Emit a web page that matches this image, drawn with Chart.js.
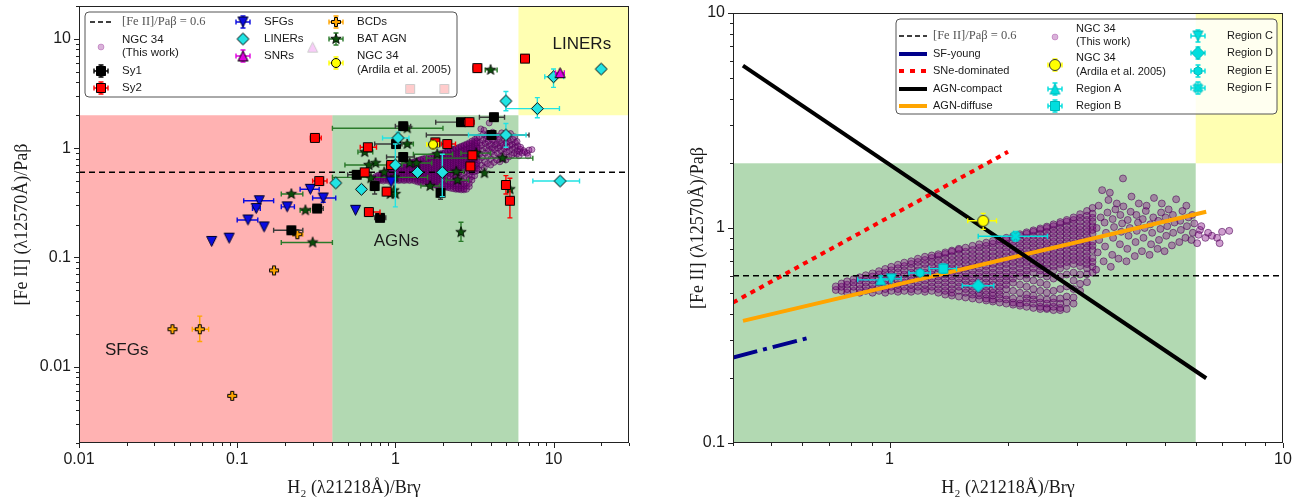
<!DOCTYPE html>
<html>
<head>
<meta charset="utf-8">
<title>[Fe II]/Paβ versus H2/Brγ diagnostic diagram</title>
<script src="https://cdn.jsdelivr.net/npm/chart.js@4.4.1/dist/chart.umd.min.js"></script>
<style>
  html, body { margin: 0; padding: 0; background: #fff; }
  #panels { position: relative; width: 1305px; height: 503px; overflow: hidden; }
  #leftChart { position: absolute; left: 0; top: 0; }
  #rightChart { position: absolute; left: 652px; top: 0; }
</style>
</head>
<body>
<div id="panels">
  <canvas id="leftChart" width="652" height="503"></canvas>
  <canvas id="rightChart" width="653" height="503"></canvas>
</div>
<script>
// ---------------- tick labels ----------------
const leftXTickLabels = [0.01, 0.1, 1, 10];
const leftYTickLabels = [0.01, 0.1, 1, 10];
const rightXTickLabels = [1, 10];
const rightYTickLabels = [0.1, 1, 10];

const ratioThreshold = 0.6;

// ---------------- NGC 34 (this work) ----------------
// dense core: strips of equal H2/Brγ with their [Fe II]/Paβ values
const ngc34Strips = [
  [0.73, [0.515, 0.535]],
  [0.755, [0.51, 0.533, 0.552]],
  [0.78, [0.50, 0.52, 0.545, 0.565]],
  [0.81, [0.51, 0.533, 0.557, 0.578]],
  [0.84, [0.50, 0.52, 0.545, 0.57, 0.59]],
  [0.87, [0.51, 0.533, 0.557, 0.582, 0.603]],
  [0.905, [0.50, 0.52, 0.545, 0.57, 0.595, 0.615]],
  [0.94, [0.51, 0.533, 0.557, 0.582, 0.608, 0.63]],
  [0.975, [0.50, 0.52, 0.545, 0.57, 0.595, 0.62, 0.645]],
  [1.01, [0.51, 0.533, 0.557, 0.582, 0.608, 0.635, 0.66]],
  [1.05, [0.505, 0.52, 0.545, 0.57, 0.595, 0.62, 0.65, 0.675]],
  [1.09, [0.51, 0.533, 0.557, 0.582, 0.608, 0.635, 0.665, 0.69]],
  [1.135, [0.505, 0.52, 0.545, 0.57, 0.595, 0.62, 0.65, 0.68, 0.70]],
  [1.18, [0.51, 0.533, 0.557, 0.582, 0.608, 0.635, 0.665, 0.695, 0.72]],
  [1.23, [0.505, 0.52, 0.545, 0.57, 0.595, 0.62, 0.65, 0.68, 0.71, 0.735]],
  [1.28, [0.51, 0.533, 0.557, 0.582, 0.608, 0.635, 0.665, 0.695, 0.725, 0.745]],
  [1.33, [0.50, 0.52, 0.545, 0.57, 0.595, 0.62, 0.65, 0.68, 0.71, 0.74, 0.755]],
  [1.385, [0.49, 0.51, 0.533, 0.557, 0.582, 0.608, 0.635, 0.665, 0.695, 0.725, 0.757, 0.77]],
  [1.44, [0.485, 0.50, 0.52, 0.545, 0.57, 0.595, 0.62, 0.65, 0.68, 0.71, 0.74, 0.775, 0.785]],
  [1.50, [0.48, 0.51, 0.533, 0.557, 0.582, 0.608, 0.635, 0.665, 0.695, 0.725, 0.757, 0.79, 0.80]],
  [1.56, [0.475, 0.50, 0.52, 0.545, 0.57, 0.595, 0.62, 0.65, 0.68, 0.71, 0.74, 0.775, 0.81]],
  [1.625, [0.47, 0.49, 0.51, 0.533, 0.557, 0.582, 0.608, 0.635, 0.665, 0.695, 0.725, 0.757, 0.79, 0.826]],
  [1.69, [0.465, 0.485, 0.50, 0.52, 0.545, 0.57, 0.595, 0.62, 0.65, 0.68, 0.71, 0.74, 0.775, 0.81, 0.84]],
  [1.76, [0.46, 0.47, 0.49, 0.51, 0.533, 0.557, 0.582, 0.608, 0.635, 0.665, 0.695, 0.725, 0.757, 0.79, 0.826, 0.855]],
  [1.83, [0.455, 0.465, 0.485, 0.50, 0.52, 0.545, 0.57, 0.595, 0.62, 0.65, 0.68, 0.71, 0.74, 0.775, 0.81, 0.845, 0.87]],
  [1.905, [0.45, 0.47, 0.49, 0.51, 0.533, 0.557, 0.582, 0.608, 0.635, 0.665, 0.695, 0.725, 0.757, 0.79, 0.826, 0.863, 0.885]],
  [1.98, [0.445, 0.465, 0.485, 0.52, 0.545, 0.57, 0.595, 0.62, 0.65, 0.68, 0.71, 0.74, 0.775, 0.81, 0.845, 0.88, 0.90]],
  [2.06, [0.44, 0.45, 0.47, 0.51, 0.557, 0.582, 0.608, 0.635, 0.665, 0.695, 0.725, 0.757, 0.79, 0.826, 0.863, 0.9, 0.915]],
  [2.145, [0.435, 0.445, 0.465, 0.50, 0.545, 0.595, 0.62, 0.65, 0.68, 0.71, 0.74, 0.775, 0.81, 0.845, 0.88, 0.92, 0.935]],
  [2.23, [0.43, 0.45, 0.47, 0.49, 0.533, 0.582, 0.608, 0.635, 0.665, 0.695, 0.725, 0.757, 0.79, 0.826, 0.863, 0.9, 0.94, 0.955]],
  [2.32, [0.425, 0.445, 0.465, 0.485, 0.52, 0.57, 0.62, 0.65, 0.68, 0.71, 0.74, 0.775, 0.81, 0.845, 0.88, 0.92, 0.96, 0.975]],
  [2.415, [0.42, 0.43, 0.45, 0.47, 0.51, 0.557, 0.608, 0.635, 0.665, 0.695, 0.725, 0.757, 0.79, 0.826, 0.863, 0.9, 0.94, 0.98, 0.995]],
  [2.51, [0.42, 0.425, 0.445, 0.465, 0.50, 0.545, 0.595, 0.62, 0.65, 0.68, 0.71, 0.74, 0.775, 0.81, 0.845, 0.88, 0.92, 0.96, 1.0, 1.015]],
  [2.61, [0.415, 0.43, 0.45, 0.47, 0.51, 0.582, 0.635, 0.665, 0.695, 0.725, 0.757, 0.79, 0.826, 0.863, 0.9, 0.94, 0.98, 1.02, 1.04]],
  [2.715, [0.415, 0.425, 0.445, 0.47, 0.52, 0.595, 0.65, 0.68, 0.71, 0.74, 0.775, 0.81, 0.845, 0.88, 0.92, 0.96, 1.0, 1.045, 1.065]],
  [2.82, [0.42, 0.45, 0.48, 0.535, 0.608, 0.665, 0.695, 0.725, 0.757, 0.79, 0.826, 0.863, 0.9, 0.94, 0.98, 1.02, 1.07, 1.09]],
  [2.935, [0.445, 0.475, 0.52, 0.57, 0.62, 0.68, 0.71, 0.74, 0.775, 0.81, 0.845, 0.88, 0.92, 0.96, 1.0, 1.045, 1.09, 1.12]],
  [3.05, [0.51, 0.55, 0.608, 0.665, 0.695, 0.725, 0.757, 0.79, 0.826, 0.863, 0.9, 0.94, 0.98, 1.02, 1.07, 1.115, 1.16]],
  [3.175, [0.56, 0.61, 0.65, 0.68, 0.71, 0.74, 0.775, 0.81, 0.845, 0.88, 0.92, 0.96, 1.0, 1.045, 1.09, 1.14, 1.2]],
  [3.28, [0.62, 0.66, 0.695, 0.725, 0.79, 0.826, 0.863, 0.94, 0.98, 1.02, 1.07, 1.115, 1.165, 1.24]]
];
// outskirts: individual [H2/Brγ, [Fe II]/Paβ] pairs
const ngc34Outskirts = [
  [3.35, 0.64], [3.38, 0.77], [3.41, 0.88], [3.36, 1.0], [3.44, 1.12], [3.4, 1.27], [3.47, 1.5],
  [3.5, 0.70], [3.53, 0.82], [3.55, 0.95], [3.52, 1.06], [3.58, 1.18], [3.6, 1.35], [3.63, 1.46],
  [3.65, 0.66], [3.68, 0.75], [3.7, 0.9], [3.72, 1.01], [3.69, 1.1], [3.75, 1.22], [3.78, 1.3],
  [3.82, 0.72], [3.85, 0.84], [3.88, 0.96], [3.9, 1.05], [3.86, 1.15], [3.93, 1.26], [3.92, 1.7],
  [4.0, 0.70], [4.02, 0.8], [4.05, 0.92], [4.08, 1.0], [4.03, 1.09], [4.1, 1.19], [4.12, 1.4],
  [4.2, 0.74], [4.22, 0.86], [4.25, 0.97], [4.28, 1.06], [4.24, 1.15], [4.3, 1.3],
  [4.38, 0.78], [4.42, 0.9], [4.45, 1.0], [4.4, 1.1], [4.48, 1.2], [4.5, 1.27],
  [4.58, 0.75], [4.62, 0.84], [4.65, 0.95], [4.6, 1.04], [4.68, 1.12], [4.7, 1.38],
  [4.8, 0.8], [4.84, 0.88], [4.88, 0.99], [4.82, 1.08], [4.9, 1.18], [4.92, 1.3],
  [5.0, 0.78], [5.05, 0.92], [5.08, 1.02], [5.03, 1.12], [5.12, 1.22],
  [5.22, 0.83], [5.26, 0.95], [5.3, 1.06], [5.25, 1.15], [5.35, 1.36],
  [5.45, 0.86], [5.5, 0.98], [5.48, 1.08], [5.55, 1.2],
  [5.65, 0.9], [5.7, 1.02], [5.75, 1.12], [5.68, 1.27],
  [5.85, 0.88], [5.9, 0.95], [5.95, 1.05], [5.88, 1.15],
  [6.05, 0.85], [6.1, 0.93], [6.15, 0.98], [6.2, 1.02],
  [6.35, 0.9], [6.45, 0.95], [6.6, 0.92], [6.8, 0.9], [7.0, 0.96], [7.3, 0.97], [6.9, 0.85]
];

// ---------------- comparison samples (left panel) ----------------
const sy1X = [4.2, 2.6, 1.12, 4.05, 1.01, 1.12, 0.57, 0.74, 1.93, 0.80, 0.32, 0.22];
const sy1Y = [1.92, 1.73, 1.59, 1.32, 1.09, 0.83, 0.57, 0.45, 0.39, 0.23, 0.28, 0.177];
const sy1XErr = [[3.4, 4.9], [1.8, 2.95], [1.0, 1.25], [1.57, 7.0], [0.74, 1.1], [0.88, 1.32], [0.5, 0.66], null, null, [0.74, 0.87], [0.30, 0.35], [0.17, 0.26]];
const sy1YErr = [[1.78, 2.08], null, null, null, null, null, null, [0.38, 0.5], [0.34, 0.44], null, null, null];

const sy2X = [3.3, 6.6, 1.24, 2.04, 2.94, 0.31, 0.67, 1.79, 2.13, 3.07, 2.98, 0.94, 0.64, 0.33, 0.88, 5.0, 5.3, 0.68];
const sy2Y = [5.4, 6.6, 3.48, 3.48, 1.73, 1.24, 1.02, 1.13, 1.09, 0.86, 0.68, 0.70, 0.60, 0.50, 0.40, 0.46, 0.33, 0.26];
const sy2XErr = [[3.1, 3.5], null, null, null, [2.75, 3.15], [0.29, 0.34], [0.6, 0.76], null, [1.95, 2.4], null, null, [0.88, 1.0], null, [0.30, 0.37], [0.84, 0.93], null, null, [0.64, 0.8]];
const sy2YErr = [null, null, null, null, [1.6, 1.87], null, null, null, null, [0.8, 0.93], null, null, null, null, null, [0.38, 0.56], [0.23, 0.53], null];

const linerX = [20, 10, 5.0, 7.9, 5.0, 1.04, 1.0, 1.38, 1.98, 0.42, 0.61, 11.0];
const linerY = [5.3, 4.5, 2.7, 2.3, 1.32, 1.24, 0.70, 0.60, 0.60, 0.48, 0.42, 0.50];
const linerXErr = [null, [8.8, 11.6], null, [5.0, 10.9], [2.9, 6.7], [0.83, 1.22], null, null, null, null, null, [7.4, 14.6]];
const linerYErr = [null, [3.6, 5.3], [2.2, 3.3], [1.9, 2.9], [1.02, 1.68], [1.1, 1.4], [0.29, 1.09], null, [0.36, 0.88], null, null, null];

const snrX = [11.0, 0.30];
const snrY = [4.9, 8.4];
const snrXErr = [[10.3, 11.7], null];
const snrYErr = [null, null];

const sfgX = [0.94, 0.56, 0.29, 0.35, 0.138, 0.132, 0.207, 0.117, 0.148, 0.069, 0.089];
const sfgY = [0.49, 0.27, 0.42, 0.35, 0.33, 0.28, 0.29, 0.22, 0.19, 0.14, 0.15];
const sfgXErr = [null, null, [0.25, 0.33], [0.30, 0.42], [0.11, 0.17], [0.125, 0.14], [0.19, 0.23], [0.10, 0.135], null, null, null];
const sfgYErr = [null, null, null, [0.32, 0.38], null, null, null, null, null, null, null];

const bcdX = [0.24, 0.171, 0.039, 0.058, 0.093];
const bcdY = [0.163, 0.076, 0.022, 0.022, 0.0054];
const bcdXErr = [[0.225, 0.26], null, null, [0.052, 0.066], null];
const bcdYErr = [null, null, null, [0.017, 0.029], null];

const batX = [1.19, 0.64, 1.19, 1.84, 3.25, 4.76, 0.75, 0.68, 1.23, 1.36, 2.43, 3.66, 0.99, 0.85, 0.70, 2.47, 0.98, 0.93, 1.0, 1.66, 5.3, 2.6, 0.27, 0.22, 0.30, 4.0];
const batY = [1.52, 0.92, 1.09, 0.88, 0.90, 0.81, 0.73, 0.70, 0.73, 0.73, 0.61, 0.59, 0.54, 0.60, 0.53, 0.51, 0.41, 0.38, 0.38, 0.45, 0.42, 0.17, 0.27, 0.38, 0.137, 5.2];
const batXErr = [[0.40, 2.0], [0.58, 0.72], [1.05, 1.3], [1.3, 2.3], [2.6, 4.0], [1.57, 7.4], null, [0.48, 1.1], null, [1.1, 1.7], [1.9, 2.7], null, [0.40, 1.6], null, null, [2.1, 2.9], null, null, null, [1.45, 1.9], null, null, [0.25, 0.29], [0.19, 0.26], [0.19, 0.40], [3.7, 4.4]];
const batYErr = [null, null, null, null, null, null, null, null, null, null, null, null, null, null, null, null, null, null, null, null, null, [0.14, 0.21], null, null, null, null];

// NGC 34 (Ardila et al. 2005)
const ardilaX = [1.73];
const ardilaY = [1.08];
const ardilaXErr = [[1.58, 1.87]];
const ardilaYErr = [[0.985, 1.17]];

// ---------------- NGC 34 regions (right panel) ----------------
const regionNames = ['Region A', 'Region B', 'Region C', 'Region D', 'Region E', 'Region F'];
const regionX = [0.95, 1.37, 1.01, 1.68, 1.196, 2.09];
const regionY = [0.574, 0.647, 0.58, 0.539, 0.618, 0.916];
const regionXErr = [[0.83, 1.0], [1.26, 1.48], [0.95, 1.07], [1.53, 1.84], [1.12, 1.27], [1.68, 2.52]];
const regionYErr = [[0.553, 0.598], [0.615, 0.68], null, null, null, [0.87, 0.965]];

// model tracks (end points in H2/Brγ, [Fe II]/Paβ)
const sfYoungX = [0.4, 0.616];       const sfYoungY = [0.25, 0.307];
const sneDominatedX = [0.4, 2.0];    const sneDominatedY = [0.45, 2.26];
const agnCompactX = [0.424, 6.38];   const agnCompactY = [5.69, 0.20];
const agnDiffuseX = [0.424, 6.38];   const agnDiffuseY = [0.37, 1.19];

// excitation zones: [xmin, xmax, ymin, ymax]
const zoneSFG = [0.01, 0.4, 0.002, 2];
const zoneAGN = [0.4, 6, 0.002, 2];
const zoneLINER = [6, 30, 2, 20];

// ---------------- helpers ----------------
function toPoints(xs, ys) { return xs.map((x, i) => ({x: x, y: ys[i]})); }
const ngc34Points = ngc34Strips.flatMap(([x, ys]) => ys.map(y => ({x: x, y: y})))
  .concat(ngc34Outskirts.map(([x, y]) => ({x: x, y: y})));

function makeMarker(shape, size, fill, edge, lw) {
  const S = Math.ceil(size + lw + 4);
  const c = document.createElement('canvas');
  c.width = S; c.height = S;
  const g = c.getContext('2d');
  const m = S / 2, r = size / 2;
  const t = 0.34;
  const plus = [[-t,-1],[t,-1],[t,-t],[1,-t],[1,t],[t,t],[t,1],[-t,1],[-t,t],[-1,t],[-1,-t],[-t,-t]];
  let pts = null;
  if (shape === 'square') pts = [[-1,-1],[1,-1],[1,1],[-1,1]];
  else if (shape === 'diamond') pts = [[0,-1],[1,0],[0,1],[-1,0]];
  else if (shape === 'triUp') pts = [[0,-1],[1,1],[-1,1]];
  else if (shape === 'triDown') pts = [[0,1],[1,-1],[-1,-1]];
  else if (shape === 'plus') pts = plus;
  else if (shape === 'xcross') pts = plus.map(([x, y]) => [(x - y) * 0.74, (x + y) * 0.74]);
  else if (shape === 'star') {
    pts = [];
    for (let k = 0; k < 10; k++) {
      const a = -Math.PI / 2 + k * Math.PI / 5, rr = k % 2 ? 0.42 : 1;
      pts.push([rr * Math.cos(a), rr * Math.sin(a)]);
    }
  } else if (shape === 'hexagon') {
    pts = [];
    for (let k = 0; k < 6; k++) {
      const a = -Math.PI / 2 + k * Math.PI / 3;
      pts.push([Math.cos(a), Math.sin(a)]);
    }
  }
  g.beginPath();
  if (shape === 'circle') g.arc(m, m, r, 0, 2 * Math.PI);
  else {
    g.moveTo(m + pts[0][0] * r, m + pts[0][1] * r);
    for (let i = 1; i < pts.length; i++) g.lineTo(m + pts[i][0] * r, m + pts[i][1] * r);
    g.closePath();
  }
  g.fillStyle = fill; g.fill();
  if (lw > 0) { g.lineWidth = lw; g.strokeStyle = edge; g.lineJoin = 'miter'; g.stroke(); }
  return c;
}

const COL = {
  cloudFill: 'rgba(128,0,128,0.38)', cloudEdge: 'rgba(72,0,84,0.55)',
  red: '#ff0000', cyan: '#22e3e3', blue: '#0a0ae0', magenta: '#e000e0', orange: '#ffa500',
  darkGreen: '#0b4f0b', batBar: '#2a7a2a', yellow: '#ffff00', region: '#00dede', regionEdge: '#00b8b8'
};

const img = {
  sy1: makeMarker('square', 9, '#000', '#000', 1),
  sy2: makeMarker('square', 9, COL.red, '#000', 1),
  liner: makeMarker('diamond', 12, COL.cyan, '#000', 1),
  snr: makeMarker('triUp', 10, COL.magenta, '#000', 1),
  sfg: makeMarker('triDown', 10, COL.blue, '#00002a', 1),
  bcd: makeMarker('plus', 9, COL.orange, '#000', 1),
  bat: makeMarker('star', 11, COL.darkGreen, '#000', 0.8),
  ardila: makeMarker('circle', 9, COL.yellow, '#000', 1),
  ardilaBig: makeMarker('circle', 11, COL.yellow, '#333', 1),
  regA: makeMarker('triUp', 10, COL.region, COL.regionEdge, 1),
  regB: makeMarker('square', 9, COL.region, COL.regionEdge, 1),
  regC: makeMarker('triDown', 10, COL.region, COL.regionEdge, 1),
  regD: makeMarker('diamond', 13, COL.region, COL.regionEdge, 1),
  regE: makeMarker('hexagon', 9, COL.region, COL.regionEdge, 1),
  regF: makeMarker('xcross', 10, COL.region, COL.regionEdge, 1)
};
const regionImgs = [img.regA, img.regB, img.regC, img.regD, img.regE, img.regF];

function markerSet(label, xs, ys, style, xErr, yErr, barColor) {
  return {
    label: label, data: toPoints(xs, ys), pointStyle: style, pointRadius: 5,
    errX: xErr, errY: yErr, errColor: barColor
  };
}
function lineSet(label, xs, ys, color, width, dash) {
  return {
    label: label, data: toPoints(xs, ys), showLine: true, pointRadius: 0,
    borderColor: color, borderWidth: width, borderDash: dash || [], borderCapStyle: 'butt', fill: false
  };
}
function cloudSet(radius) {
  return {
    label: 'NGC 34 (This work)', data: ngc34Points, pointStyle: 'circle', pointRadius: radius,
    backgroundColor: COL.cloudFill, borderColor: COL.cloudEdge, borderWidth: 1
  };
}

function logTicks(min, max, labels) {
  const out = [];
  for (let e = Math.floor(Math.log10(min)); e <= Math.ceil(Math.log10(max)); e++) {
    for (let k = 1; k <= 9; k++) {
      const v = Number((k * Math.pow(10, e)).toPrecision(6));
      if (v < min * 0.9999 || v > max * 1.0001) continue;
      const hit = labels.find(l => Math.abs(l - v) / v < 1e-6);
      out.push({value: v, major: k === 1, lbl: hit !== undefined ? String(hit) : ''});
    }
  }
  return out;
}

function logAxis(min, max, labels, title, isY, boxSize, titlePad) {
  return {
    type: 'logarithmic', min: min, max: max,
    afterBuildTicks: s => { s.ticks = logTicks(min, max, labels); },
    afterFit: s => {
      if (isY) { s.width = boxSize; s.paddingTop = 0; s.paddingBottom = 0; }
      else { s.height = boxSize; s.paddingLeft = 0; s.paddingRight = 0; }
    },
    grid: {display: false, drawTicks: false},
    border: {display: false},
    ticks: {
      autoSkip: false, maxRotation: 0, minRotation: 0, padding: isY ? 8 : 7,
      color: '#1a1a1a', font: {family: 'Liberation Sans', size: 16},
      callback: (v, i, t) => t[i].lbl
    },
    title: {
      display: true, text: title, color: '#1a1a1a',
      font: {family: 'Liberation Serif', size: 18}, padding: titlePad
    }
  };
}

// ---------------- plugins ----------------
const errorBars = {
  id: 'errorBars',
  beforeDatasetDraw(chart, args) {
    const ds = chart.data.datasets[args.index];
    if (!ds.errX && !ds.errY) return;
    const xs = chart.scales.x, ys = chart.scales.y, ctx = chart.ctx, a = chart.chartArea;
    ctx.save();
    ctx.beginPath(); ctx.rect(a.left, a.top, a.right - a.left, a.bottom - a.top); ctx.clip();
    ctx.strokeStyle = ds.errColor; ctx.lineWidth = 1.4;
    const cap = 2.5;
    ds.data.forEach((p, i) => {
      const px = xs.getPixelForValue(p.x), py = ys.getPixelForValue(p.y);
      const ex = ds.errX ? ds.errX[i] : null, ey = ds.errY ? ds.errY[i] : null;
      ctx.beginPath();
      if (ex) {
        const x0 = xs.getPixelForValue(ex[0]), x1 = xs.getPixelForValue(ex[1]);
        ctx.moveTo(x0, py); ctx.lineTo(x1, py);
        ctx.moveTo(x0, py - cap); ctx.lineTo(x0, py + cap);
        ctx.moveTo(x1, py - cap); ctx.lineTo(x1, py + cap);
      }
      if (ey) {
        const y0 = ys.getPixelForValue(ey[0]), y1 = ys.getPixelForValue(ey[1]);
        ctx.moveTo(px, y0); ctx.lineTo(px, y1);
        ctx.moveTo(px - cap, y0); ctx.lineTo(px + cap, y0);
        ctx.moveTo(px - cap, y1); ctx.lineTo(px + cap, y1);
      }
      ctx.stroke();
    });
    ctx.restore();
  }
};

function zonesPlugin(zones) {
  return {
    id: 'zones',
    beforeDatasetsDraw(chart) {
      const xs = chart.scales.x, ys = chart.scales.y, ctx = chart.ctx, a = chart.chartArea;
      ctx.save();
      ctx.beginPath(); ctx.rect(a.left, a.top, a.right - a.left, a.bottom - a.top); ctx.clip();
      zones.forEach(z => {
        const x0 = xs.getPixelForValue(z.box[0]), x1 = xs.getPixelForValue(z.box[1]);
        const y0 = ys.getPixelForValue(z.box[3]), y1 = ys.getPixelForValue(z.box[2]);
        ctx.fillStyle = z.color;
        ctx.fillRect(x0, y0, x1 - x0, y1 - y0);
      });
      ctx.restore();
    }
  };
}

const frameAndTicks = {
  id: 'frameAndTicks',
  afterDatasetsDraw(chart) {
    const ctx = chart.ctx, a = chart.chartArea, xs = chart.scales.x, ys = chart.scales.y;
    ctx.save();
    ctx.strokeStyle = '#222'; ctx.lineWidth = 1;
    ctx.strokeRect(Math.round(a.left) + 0.5, Math.round(a.top) + 0.5,
                   Math.round(a.right - a.left) - 1, Math.round(a.bottom - a.top) - 1);
    ctx.beginPath();
    xs.ticks.forEach(t => {
      const px = Math.round(xs.getPixelForValue(t.value)) + 0.5, len = t.major ? 5 : 3;
      ctx.moveTo(px, a.bottom); ctx.lineTo(px, a.bottom + len);
    });
    ys.ticks.forEach(t => {
      const py = Math.round(ys.getPixelForValue(t.value)) + 0.5, len = t.major ? 5 : 3;
      ctx.moveTo(a.left, py); ctx.lineTo(a.left - len, py);
    });
    ctx.stroke();
    ctx.restore();
  }
};

function notesPlugin(notes) {
  return {
    id: 'notes',
    afterDatasetsDraw(chart) {
      const ctx = chart.ctx, xs = chart.scales.x, ys = chart.scales.y;
      ctx.save();
      ctx.fillStyle = '#1a1a1a';
      ctx.font = '17px "Liberation Sans"';
      ctx.textBaseline = 'middle'; ctx.textAlign = 'left';
      notes.forEach(n => ctx.fillText(n.text, xs.getPixelForValue(n.x), ys.getPixelForValue(n.y)));
      ctx.restore();
    }
  };
}

function drawHandleBars(ctx, x, y, color) {
  ctx.save();
  ctx.strokeStyle = color; ctx.lineWidth = 1.4;
  ctx.beginPath();
  ctx.moveTo(x - 7, y); ctx.lineTo(x + 7, y);
  ctx.moveTo(x - 7, y - 2.5); ctx.lineTo(x - 7, y + 2.5);
  ctx.moveTo(x + 7, y - 2.5); ctx.lineTo(x + 7, y + 2.5);
  ctx.moveTo(x, y - 6); ctx.lineTo(x, y + 6);
  ctx.moveTo(x - 2.5, y - 6); ctx.lineTo(x + 2.5, y - 6);
  ctx.moveTo(x - 2.5, y + 6); ctx.lineTo(x + 2.5, y + 6);
  ctx.stroke();
  ctx.restore();
}

function legendPlugin(spec) {
  return {
    id: 'customLegend',
    afterDraw(chart) {
      const ctx = chart.ctx;
      ctx.save();
      const b = spec.box, r = 4;
      ctx.beginPath();
      ctx.moveTo(b.x + r, b.y); ctx.lineTo(b.x + b.w - r, b.y);
      ctx.quadraticCurveTo(b.x + b.w, b.y, b.x + b.w, b.y + r);
      ctx.lineTo(b.x + b.w, b.y + b.h - r);
      ctx.quadraticCurveTo(b.x + b.w, b.y + b.h, b.x + b.w - r, b.y + b.h);
      ctx.lineTo(b.x + r, b.y + b.h);
      ctx.quadraticCurveTo(b.x, b.y + b.h, b.x, b.y + b.h - r);
      ctx.lineTo(b.x, b.y + r);
      ctx.quadraticCurveTo(b.x, b.y, b.x + r, b.y);
      ctx.closePath();
      ctx.fillStyle = 'rgba(255,255,255,0.8)'; ctx.fill();
      ctx.strokeStyle = '#555'; ctx.lineWidth = 1; ctx.stroke();

      spec.items.forEach(it => {
        if (it.kind === 'line') {
          ctx.save();
          ctx.strokeStyle = it.color; ctx.lineWidth = it.width; ctx.lineCap = 'butt';
          ctx.setLineDash(it.dash || []);
          ctx.beginPath(); ctx.moveTo(it.x0, it.y); ctx.lineTo(it.x1, it.y); ctx.stroke();
          ctx.restore();
        } else if (it.kind === 'dot') {
          ctx.beginPath(); ctx.arc(it.x, it.y, it.r, 0, 2 * Math.PI);
          ctx.fillStyle = 'rgba(128,0,128,0.3)'; ctx.fill();
          ctx.strokeStyle = 'rgba(128,0,128,0.3)'; ctx.lineWidth = 0.9; ctx.stroke();
        } else if (it.kind === 'marker') {
          if (it.bars) drawHandleBars(ctx, it.x, it.y, it.bars);
          ctx.drawImage(it.img, it.x - it.img.width / 2, it.y - it.img.height / 2);
        } else if (it.kind === 'text') {
          ctx.fillStyle = it.color || '#1a1a1a';
          ctx.font = it.font || spec.font;
          ctx.textBaseline = 'middle'; ctx.textAlign = 'left';
          ctx.fillText(it.text, it.x, it.y);
        }
      });
      ctx.restore();
    }
  };
}

// ---------------- left panel ----------------
const leftDatasets = [
  cloudSet(3),
  lineSet('[Fe II]/Paβ = 0.6', [0.01, 30], [ratioThreshold, ratioThreshold], '#000', 1.5, [6, 4]),
  markerSet('BAT AGN', batX, batY, img.bat, batXErr, batYErr, COL.batBar),
  markerSet('SFGs', sfgX, sfgY, img.sfg, sfgXErr, sfgYErr, COL.blue),
  markerSet('BCDs', bcdX, bcdY, img.bcd, bcdXErr, bcdYErr, COL.orange),
  markerSet('Sy1', sy1X, sy1Y, img.sy1, sy1XErr, sy1YErr, '#3a3a3a'),
  markerSet('Sy2', sy2X, sy2Y, img.sy2, sy2XErr, sy2YErr, COL.red),
  markerSet('LINERs', linerX, linerY, img.liner, linerXErr, linerYErr, COL.cyan),
  markerSet('SNRs', snrX, snrY, img.snr, snrXErr, snrYErr, COL.magenta),
  markerSet('NGC 34 (Ardila et al. 2005)', ardilaX, ardilaY, img.ardila, ardilaXErr, ardilaYErr, COL.yellow)
];
leftDatasets.forEach((d, i) => { d.order = -i; });

const leftLegend = {
  font: '11.5px "Liberation Sans"',
  box: {x: 85, y: 12, w: 372, h: 85},
  items: [
    {kind: 'line', x0: 90, x1: 113, y: 22, color: '#000', width: 1.5, dash: [5, 3]},
    {kind: 'text', x: 122, y: 22, text: '[Fe II]/Paβ = 0.6', font: '12.5px "Liberation Serif"', color: '#555'},
    {kind: 'dot', x: 101, y: 47, r: 3},
    {kind: 'text', x: 122, y: 40, text: 'NGC 34'},
    {kind: 'text', x: 122, y: 53, text: '(This work)'},
    {kind: 'marker', x: 101, y: 71, img: img.sy1, bars: '#000'},
    {kind: 'text', x: 122, y: 71, text: 'Sy1'},
    {kind: 'marker', x: 101, y: 88, img: img.sy2, bars: COL.red},
    {kind: 'text', x: 122, y: 88, text: 'Sy2'},
    {kind: 'marker', x: 243, y: 22, img: img.sfg, bars: COL.blue},
    {kind: 'text', x: 264, y: 22, text: 'SFGs'},
    {kind: 'marker', x: 243, y: 39, img: img.liner},
    {kind: 'text', x: 264, y: 39, text: 'LINERs'},
    {kind: 'marker', x: 243, y: 56, img: img.snr, bars: COL.magenta},
    {kind: 'text', x: 264, y: 56, text: 'SNRs'},
    {kind: 'marker', x: 336, y: 22, img: img.bcd, bars: COL.orange},
    {kind: 'text', x: 357, y: 22, text: 'BCDs'},
    {kind: 'marker', x: 336, y: 39, img: img.bat, bars: COL.batBar},
    {kind: 'text', x: 357, y: 39, text: 'BAT AGN'},
    {kind: 'marker', x: 336, y: 63, img: img.ardila, bars: COL.yellow},
    {kind: 'text', x: 357, y: 56, text: 'NGC 34'},
    {kind: 'text', x: 357, y: 70, text: '(Ardila et al. 2005)'}
  ]
};

new Chart(document.getElementById('leftChart'), {
  type: 'scatter',
  data: {datasets: leftDatasets},
  options: {
    responsive: false, animation: false, events: [],
    layout: {padding: {top: 5, right: 23, left: 0, bottom: 0}},
    plugins: {legend: {display: false}, tooltip: {enabled: false}},
    scales: {
      x: logAxis(0.01, 30, leftXTickLabels, 'H₂ (λ21218Å)/Brγ', false, 60, {top: 0, bottom: 4}),
      y: logAxis(0.002, 20, leftYTickLabels, '[Fe II] (λ12570Å)/Paβ', true, 79, {top: 11, bottom: 0})
    }
  },
  plugins: [
    zonesPlugin([
      {box: zoneSFG, color: 'rgba(255,0,0,0.3)'},
      {box: zoneAGN, color: 'rgba(0,128,0,0.3)'},
      {box: zoneLINER, color: 'rgba(255,255,0,0.3)'}
    ]),
    errorBars, frameAndTicks,
    notesPlugin([
      {text: 'SFGs', x: 0.0146, y: 0.014},
      {text: 'AGNs', x: 0.73, y: 0.14},
      {text: 'LINERs', x: 9.86, y: 9.0}
    ]),
    legendPlugin(leftLegend)
  ]
});

// ---------------- right panel ----------------
const rightDatasets = [
  cloudSet(3.5),
  lineSet('SF-young', sfYoungX, sfYoungY, '#00008b', 4, [25, 6, 4, 6]),
  lineSet('SNe-dominated', sneDominatedX, sneDominatedY, '#ff0000', 4, [5, 5]),
  lineSet('AGN-diffuse', agnDiffuseX, agnDiffuseY, '#ffa500', 4),
  lineSet('AGN-compact', agnCompactX, agnCompactY, '#000', 4),
  lineSet('[Fe II]/Paβ = 0.6', [0.4, 10], [ratioThreshold, ratioThreshold], '#000', 1.5, [6, 4]),
  markerSet('NGC 34 (Ardila et al. 2005)', ardilaX, ardilaY, img.ardilaBig, ardilaXErr, ardilaYErr, COL.yellow)
];
regionNames.forEach((name, i) => {
  rightDatasets.push(markerSet(name, [regionX[i]], [regionY[i]], regionImgs[i],
    [regionXErr[i]], [regionYErr[i]], COL.region));
});
rightDatasets.forEach((d, i) => { d.order = -i; });

const R0 = 652;
const rightLegend = {
  font: '11px "Liberation Sans"',
  box: {x: 896 - R0, y: 19, w: 381, h: 95},
  items: [
    {kind: 'line', x0: 899 - R0, x1: 927 - R0, y: 36, color: '#000', width: 1.5, dash: [5, 3]},
    {kind: 'text', x: 933 - R0, y: 36, text: '[Fe II]/Paβ = 0.6', font: '12.5px "Liberation Serif"', color: '#555'},
    {kind: 'line', x0: 899 - R0, x1: 927 - R0, y: 54, color: '#00008b', width: 4},
    {kind: 'text', x: 933 - R0, y: 54, text: 'SF-young'},
    {kind: 'line', x0: 899 - R0, x1: 927 - R0, y: 71, color: '#ff0000', width: 4, dash: [5, 6]},
    {kind: 'text', x: 933 - R0, y: 71, text: 'SNe-dominated'},
    {kind: 'line', x0: 899 - R0, x1: 927 - R0, y: 89, color: '#000', width: 4},
    {kind: 'text', x: 933 - R0, y: 89, text: 'AGN-compact'},
    {kind: 'line', x0: 899 - R0, x1: 927 - R0, y: 106, color: '#ffa500', width: 4},
    {kind: 'text', x: 933 - R0, y: 106, text: 'AGN-diffuse'},
    {kind: 'dot', x: 1055 - R0, y: 37, r: 3},
    {kind: 'text', x: 1076 - R0, y: 29, text: 'NGC 34'},
    {kind: 'text', x: 1076 - R0, y: 42, text: '(This work)'},
    {kind: 'marker', x: 1055 - R0, y: 65, img: img.ardilaBig, bars: COL.yellow},
    {kind: 'text', x: 1076 - R0, y: 58, text: 'NGC 34'},
    {kind: 'text', x: 1076 - R0, y: 72, text: '(Ardila et al. 2005)'},
    {kind: 'marker', x: 1055 - R0, y: 89, img: img.regA, bars: COL.region},
    {kind: 'text', x: 1076 - R0, y: 89, text: regionNames[0]},
    {kind: 'marker', x: 1055 - R0, y: 106, img: img.regB, bars: COL.region},
    {kind: 'text', x: 1076 - R0, y: 106, text: regionNames[1]},
    {kind: 'marker', x: 1198 - R0, y: 36, img: img.regC, bars: COL.region},
    {kind: 'text', x: 1227 - R0, y: 36, text: regionNames[2]},
    {kind: 'marker', x: 1198 - R0, y: 53, img: img.regD, bars: COL.region},
    {kind: 'text', x: 1227 - R0, y: 53, text: regionNames[3]},
    {kind: 'marker', x: 1198 - R0, y: 71, img: img.regE, bars: COL.region},
    {kind: 'text', x: 1227 - R0, y: 71, text: regionNames[4]},
    {kind: 'marker', x: 1198 - R0, y: 88, img: img.regF, bars: COL.region},
    {kind: 'text', x: 1227 - R0, y: 88, text: regionNames[5]}
  ]
};

new Chart(document.getElementById('rightChart'), {
  type: 'scatter',
  data: {datasets: rightDatasets},
  options: {
    responsive: false, animation: false, events: [],
    layout: {padding: {top: 13, right: 22, left: 0, bottom: 0}},
    plugins: {legend: {display: false}, tooltip: {enabled: false}},
    scales: {
      x: logAxis(0.4, 10, rightXTickLabels, 'H₂ (λ21218Å)/Brγ', false, 60, {top: 0, bottom: 4}),
      y: logAxis(0.1, 10, rightYTickLabels, '[Fe II] (λ12570Å)/Paβ', true, 81, {top: 35, bottom: 0})
    }
  },
  plugins: [
    zonesPlugin([
      {box: zoneAGN, color: 'rgba(0,128,0,0.3)'},
      {box: zoneLINER, color: 'rgba(255,255,0,0.3)'}
    ]),
    errorBars, frameAndTicks,
    legendPlugin(rightLegend)
  ]
});
</script>
</body>
</html>
